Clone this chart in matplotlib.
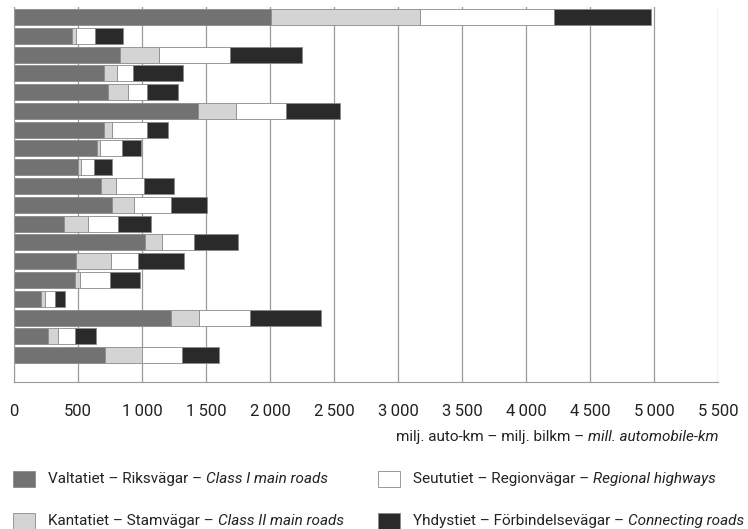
import numpy as np
import matplotlib.pyplot as plt
from matplotlib.patches import Rectangle

plt.rcParams['font.family'] = ['Roboto', 'DejaVu Sans']

""" Data (milj. auto-km), one row per region, top to bottom """
class1 = [2004, 454, 830, 702, 734, 1441, 705, 645, 498, 676,
          762, 391, 1026, 485, 480, 210, 1223, 262, 708]
class2 = [1166, 28, 305, 101, 155, 291, 62, 26, 23, 123,
          176, 190, 133, 272, 36, 31, 221, 85, 290]
regional = [1050, 153, 552, 128, 153, 396, 270, 171, 104, 217,
            286, 230, 246, 213, 231, 78, 397, 133, 314]
connecting = [757, 215, 563, 386, 241, 415, 168, 153, 142, 234,
              287, 257, 345, 357, 238, 78, 559, 158, 288]

series = [class1, class2, regional, connecting]
colors = ['#727272', '#d4d4d4', '#ffffff', '#2a2a2a']
plain = ['Valtatiet – Riksvägar – ', 'Kantatiet – Stamvägar – ',
         'Seututiet – Regionvägar – ', 'Yhdystiet – Förbindelsevägar – ']
italic = ['Class I main roads', 'Class II main roads',
          'Regional highways', 'Connecting roads']
xticks = np.arange(0, 5501, 500)
xticklabels = ['0', '500'] + [f'{v // 1000}\u2009{v % 1000:03d}' for v in xticks[2:]]

fig = plt.figure(figsize=(7.48, 5.29), dpi=100)
ax = fig.add_axes([14 / 748, 1 - 382 / 529, 704 / 748, 375 / 529])

y = np.arange(len(class1))
left = np.zeros(len(class1))
for vals, col in zip(series, colors):
    ax.barh(y, vals, left=left, height=0.85, color=col,
            edgecolor='#8a8a8a', linewidth=0.6, zorder=2)
    left += np.array(vals)

ax.set_xlim(0, 5500)
ax.set_ylim(19.43, -0.53)
ax.set_xticks(xticks)
ax.set_xticklabels(xticklabels, fontsize=12)
ax.tick_params(axis='x', length=0, pad=16, colors='#222222')
ax.set_yticks([])
ax.grid(axis='x', color='#9a9a9a', linewidth=0.9, zorder=0)
for s in ['top', 'right']:
    ax.spines[s].set_visible(False)
ax.spines['left'].set_color('#9a9a9a')
ax.spines['bottom'].set_color('#9a9a9a')

# axis unit label with italic part
t_it = fig.text(719 / 748, 1 - 437 / 529, 'mill. automobile-km', fontsize=11,
                style='italic', ha='right', va='center', color='#222222')
ax.annotate('milj. auto-km – milj. bilkm – ', xy=(0, 0), xycoords=t_it,
            ha='right', va='bottom', fontsize=11, color='#222222')

# legend
pos = [(13, 479), (13, 521), (378, 479), (378, 521)]
for (px, py), col, p, it in zip(pos, colors, plain, italic):
    fig.add_artist(Rectangle((px / 748, 1 - (py + 8) / 529), 22 / 748, 16 / 529,
                             transform=fig.transFigure, facecolor=col,
                             edgecolor='#8a8a8a', linewidth=0.6))
    t1 = fig.text((px + 35) / 748, 1 - py / 529, p, fontsize=11,
                  ha='left', va='center', color='#222222')
    ax.annotate(it, xy=(1, 0), xycoords=t1, ha='left', va='bottom',
                fontsize=11, style='italic', color='#222222')

fig.savefig('out.png', dpi=100)
